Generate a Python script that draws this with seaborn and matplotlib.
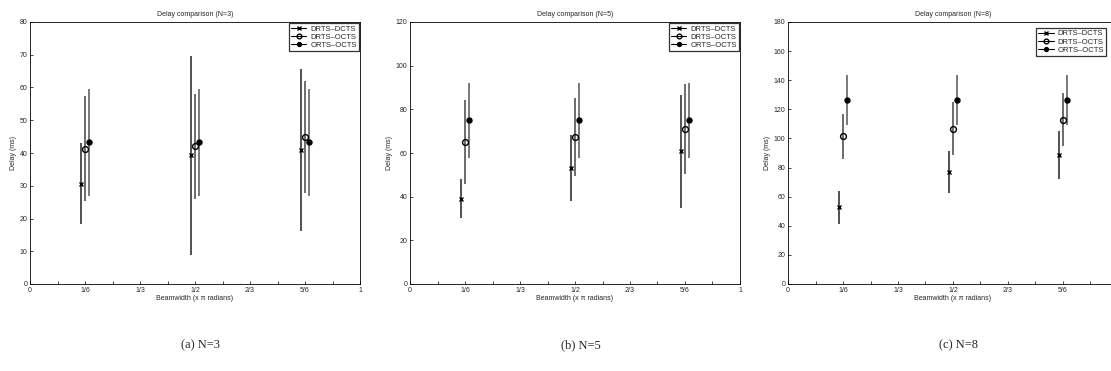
import numpy as np
import pandas as pd
import seaborn as sns
import matplotlib.pyplot as plt
from matplotlib.lines import Line2D

sns.set_style('white')
plt.rcParams['font.family'] = ['Liberation Sans', 'DejaVu Sans']

# beamwidths (x pi radians) and series names
beamwidths = [1/6, 1/2, 5/6]
series = ['DRTS-DCTS', 'DRTS-OCTS', 'ORTS-OCTS']
legend_labels = ['DRTS\u2013DCTS', 'DRTS\u2013OCTS', 'ORTS\u2013OCTS']
panels = ['N=3', 'N=5', 'N=8']

# mean delay (ms) per panel / series
mean_n3 = {'DRTS-DCTS': [30.5, 39.3, 41.0],
           'DRTS-OCTS': [41.3, 42.0, 44.8],
           'ORTS-OCTS': [43.3, 43.3, 43.3]}
lo_n3 = {'DRTS-DCTS': [18.2, 9.0, 16.3],
         'DRTS-OCTS': [25.3, 26.0, 27.8],
         'ORTS-OCTS': [27.0, 27.0, 27.0]}
hi_n3 = {'DRTS-DCTS': [43.0, 69.7, 65.8],
         'DRTS-OCTS': [57.3, 58.0, 62.0],
         'ORTS-OCTS': [59.6, 59.6, 59.6]}

mean_n5 = {'DRTS-DCTS': [39.0, 53.1, 60.8],
           'DRTS-OCTS': [64.9, 67.5, 71.0],
           'ORTS-OCTS': [75.1, 75.1, 75.1]}
lo_n5 = {'DRTS-DCTS': [30.1, 38.1, 35.0],
         'DRTS-OCTS': [45.6, 49.6, 50.5],
         'ORTS-OCTS': [57.9, 57.9, 57.9]}
hi_n5 = {'DRTS-DCTS': [48.0, 68.3, 86.5],
         'DRTS-OCTS': [84.2, 85.3, 91.7],
         'ORTS-OCTS': [92.0, 92.0, 92.0]}

mean_n8 = {'DRTS-DCTS': [52.6, 77.1, 88.5],
           'DRTS-OCTS': [101.5, 106.8, 113.0],
           'ORTS-OCTS': [126.7, 126.7, 126.7]}
lo_n8 = {'DRTS-DCTS': [41.2, 62.3, 71.8],
         'DRTS-OCTS': [85.9, 88.3, 94.5],
         'ORTS-OCTS': [109.3, 109.3, 109.3]}
hi_n8 = {'DRTS-DCTS': [63.7, 91.7, 104.9],
         'DRTS-OCTS': [116.5, 124.9, 131.3],
         'ORTS-OCTS': [143.8, 143.8, 143.8]}

ylims = [80, 120, 180]
ysteps = [10, 20, 20]

tick_pos = [0, 1/6, 1/3, 1/2, 2/3, 5/6, 1]
tick_lab = ['0', '1/6', '1/3', '1/2', '2/3', '5/6', '1']

offsets = {'DRTS-DCTS': -0.012, 'DRTS-OCTS': 0.0, 'ORTS-OCTS': 0.011}
markers = {'DRTS-DCTS': 'x', 'DRTS-OCTS': 'o', 'ORTS-OCTS': 'o'}
msizes = {'DRTS-DCTS': 3, 'DRTS-OCTS': 4.2, 'ORTS-OCTS': 3.6}
facecols = {'DRTS-DCTS': 'black', 'DRTS-OCTS': 'none', 'ORTS-OCTS': 'black'}
barcols = {'DRTS-DCTS': '#222222', 'DRTS-OCTS': '#444444', 'ORTS-OCTS': '#555555'}

fig = plt.figure(figsize=(11.11, 3.71), dpi=100)
lefts = [30/1111, 410/1111, 788/1111]
w = 330/1111
bottom = (371 - 284)/371
h = (284 - 22)/371

data = [(mean_n3, lo_n3, hi_n3), (mean_n5, lo_n5, hi_n5), (mean_n8, lo_n8, hi_n8)]
captions = ['(a) N=3', '(b) N=5', '(c) N=8']

for i, (means, los, his) in enumerate(data):
    ax = fig.add_axes([lefts[i], bottom, w, h])
    rows = []
    for s in series:
        for j, b in enumerate(beamwidths):
            rows.append({'x': b + offsets[s], 'delay': means[s][j],
                         'lo': los[s][j], 'hi': his[s][j], 'series': s})
    df = pd.DataFrame(rows)
    for s in series:
        d = df[df.series == s]
        ax.vlines(d.x, d.lo, d.hi, color=barcols[s], lw=1.1, zorder=2)
        ax.plot(d.x, d.delay, ls='none', marker=markers[s], ms=msizes[s],
                mfc=facecols[s], mec='black', mew=1.0, zorder=3)
    ax.set_xlim(0, 1)
    ax.set_ylim(0, ylims[i])
    ax.set_xticks(tick_pos)
    # last panel runs off the page edge, its "1" label is not visible
    labs = tick_lab[:-1] + [''] if i == 2 else tick_lab
    ax.set_xticklabels(labs)
    ax.set_xticks(np.arange(1, 12, 2) / 12, minor=True)
    ax.set_yticks(np.arange(0, ylims[i] + 1, ysteps[i]))
    ax.tick_params(which='both', direction='in', length=2.5, width=0.6,
                   labelsize=5, pad=2, bottom=True, left=True)
    ax.tick_params(axis='x', which='minor', length=2.5)
    for sp in ax.spines.values():
        sp.set_linewidth(0.6)
        sp.set_color('black')
    ax.set_title('Delay comparison (%s)' % panels[i], fontsize=5, pad=4)
    ax.set_xlabel('Beamwidth (x \u03c0 radians)', fontsize=5, labelpad=1)
    ax.set_ylabel('Delay (ms)', fontsize=5, labelpad=2)
    handles = [Line2D([], [], color='black', lw=0.8, marker=markers[s],
                      ms=msizes[s] - 0.8, mfc=facecols[s], mec='black')
               for s in series]
    if i == 2:
        anchor = dict(loc='upper right', bbox_to_anchor=(1110/1111, (371 - 24)/371),
                      bbox_transform=fig.transFigure)
    else:
        anchor = dict(loc='upper right', borderaxespad=0.15)
    leg = ax.legend(handles, legend_labels, fontsize=5.5,
                    frameon=True, fancybox=False, handlelength=2.0,
                    handletextpad=0.5, borderpad=0.3, labelspacing=0.1,
                    **anchor)
    leg.get_frame().set_edgecolor('black')
    leg.get_frame().set_linewidth(0.9)
    fig.text(lefts[i] + w / 2 + 0.005, 0.07, captions[i], ha='center',
             va='center', fontsize=9, family=['Liberation Serif', 'DejaVu Serif'])

fig.savefig('out.png', dpi=100)
